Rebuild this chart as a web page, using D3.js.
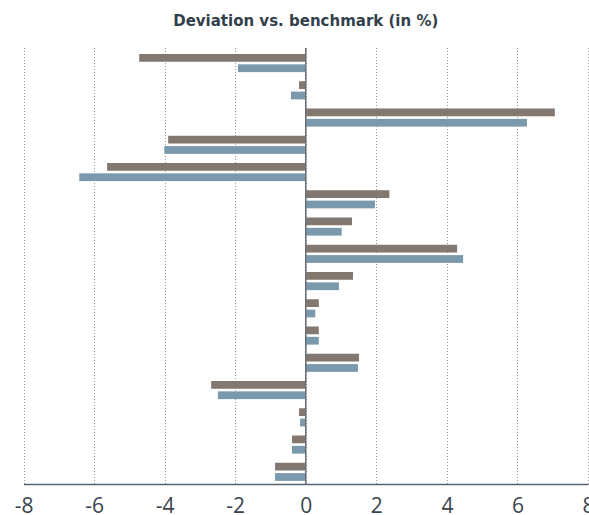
<!DOCTYPE html>
<html>
<head>
<meta charset="utf-8">
<script src="https://cdn.jsdelivr.net/npm/d3@7"></script>
<style>
  html, body { margin: 0; padding: 0; background: #fff; }
  svg { display: block; }
</style>
</head>
<body>
<div id="chart"></div>
<script>
const categories = ["Item 1","Item 2","Item 3","Item 4","Item 5","Item 6","Item 7","Item 8",
                    "Item 9","Item 10","Item 11","Item 12","Item 13","Item 14","Item 15","Item 16"];
const seriesA = [-4.72, -0.19, 7.06, -3.90, -5.63, 2.37, 1.31, 4.29, 1.34, 0.37, 0.37, 1.51, -2.68, -0.19, -0.39, -0.87];
const seriesB = [-1.92, -0.42, 6.27, -4.01, -6.42, 1.96, 1.02, 4.46, 0.94, 0.27, 0.37, 1.48, -2.49, -0.16, -0.39, -0.87];
const xTicks = [-8, -6, -4, -2, 0, 2, 4, 6, 8];
const title = "Deviation vs. benchmark (in %)";

const W = 589, H = 515;
const plot = { left: 23.5, right: 588, top: 48, bottom: 484 };

const svg = d3.select("#chart").append("svg").attr("width", W).attr("height", H);

const x = d3.scaleLinear().domain([-8, 8]).range([plot.left, plot.right]);
const y = d3.scaleBand().domain(categories).range([plot.top, plot.bottom]).padding(0);
const bw = y.bandwidth();

// gridlines
svg.append("g").selectAll("line").data(xTicks).join("line")
  .attr("x1", d => Math.round(x(d)) + 0.5).attr("x2", d => Math.round(x(d)) + 0.5)
  .attr("y1", plot.top).attr("y2", plot.bottom)
  .attr("stroke", "#9a9a9a").attr("stroke-width", 1).attr("stroke-dasharray", "1,2");

// bars
const barH = 0.285 * bw;
svg.append("g").selectAll("rect").data(seriesA).join("rect")
  .attr("x", d => x(Math.min(0, d))).attr("width", d => Math.abs(x(d) - x(0)))
  .attr("y", (d, i) => y(categories[i]) + 0.22 * bw).attr("height", barH)
  .attr("fill", "#837870");
svg.append("g").selectAll("rect").data(seriesB).join("rect")
  .attr("x", d => x(Math.min(0, d))).attr("width", d => Math.abs(x(d) - x(0)))
  .attr("y", (d, i) => y(categories[i]) + 0.6 * bw).attr("height", barH)
  .attr("fill", "#7a99ad");

// zero line
svg.append("line")
  .attr("x1", x(0)).attr("x2", x(0)).attr("y1", plot.top).attr("y2", plot.bottom)
  .attr("stroke", "#6b7078").attr("stroke-width", 1.5);

// x axis
const axis = d3.axisBottom(x).tickValues(xTicks).tickSize(0).tickPadding(14.5)
  .tickFormat(d => d);
const gx = svg.append("g").attr("transform", `translate(0,${plot.bottom})`).call(axis);
gx.select(".domain").attr("stroke", "#5a6470").attr("stroke-width", 1.5);
gx.selectAll("text").attr("font-family", "'Open Sans', sans-serif").attr("font-size", 21)
  .attr("fill", "#3b4550");

// title
svg.append("text").attr("x", (plot.left + plot.right) / 2).attr("y", 26)
  .attr("text-anchor", "middle").attr("font-family", "'DejaVu Sans', sans-serif")
  .attr("font-weight", "bold").attr("font-size", 15).attr("fill", "#333f4b")
  .text(title);
</script>
</body>
</html>
